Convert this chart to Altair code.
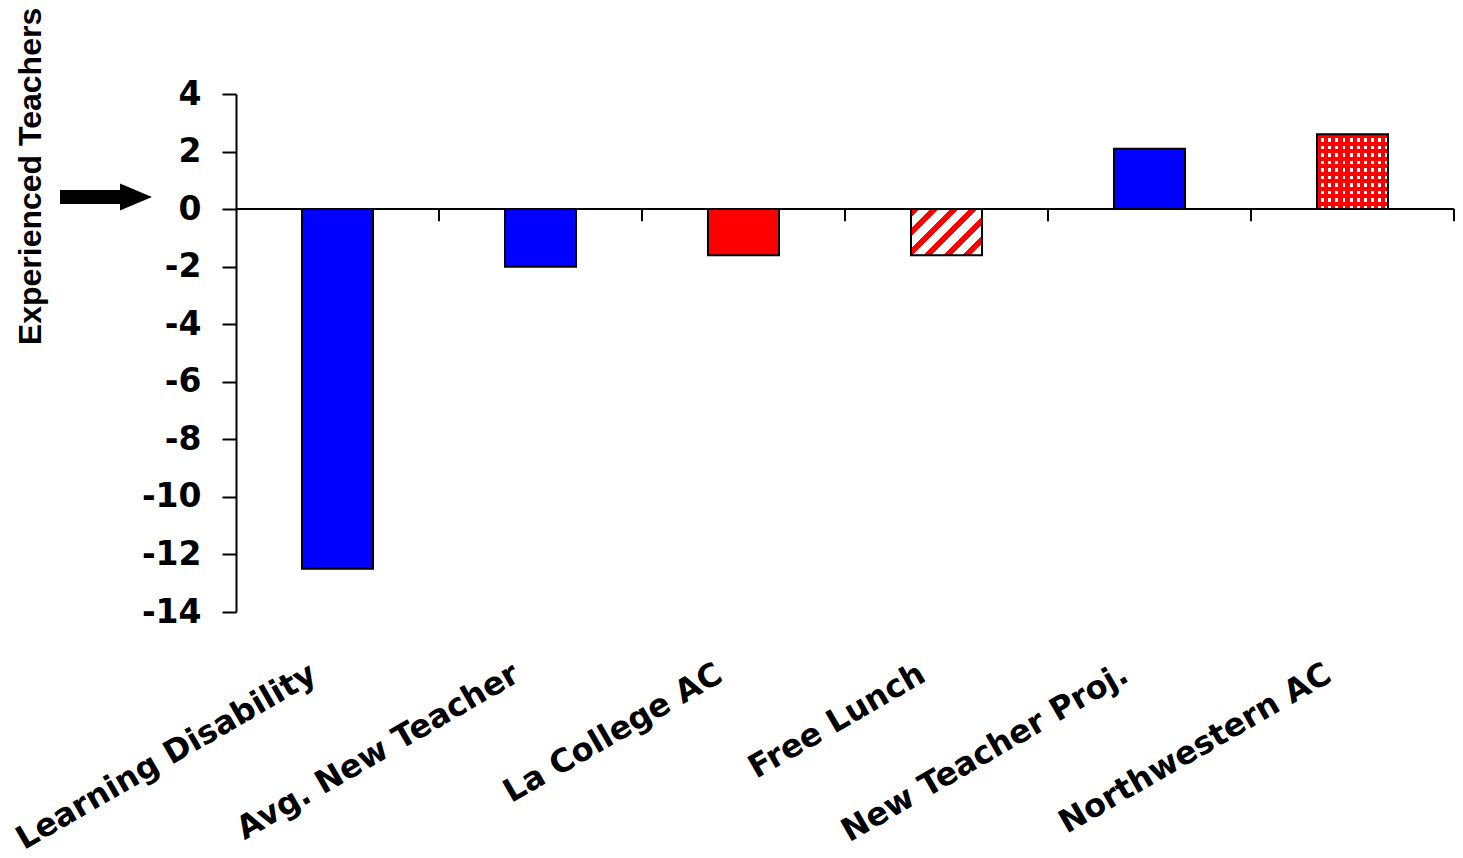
import altair as alt
import pandas as pd

categories = ["Learning Disability", "Avg. New Teacher", "La College AC",
              "Free Lunch", "New Teacher Proj.", "Northwestern AC"]
values = [-12.5, -2.0, -1.6, -1.6, 2.1, 2.6]
fills = ["solid", "solid", "solid", "stripes", "solid", "dots"]
solid_colors = ["#0000FF", "#0000FF", "#FF0000", "#FFFFFF", "#0000FF", "#FF0000"]
y_ticks = [4, 2, 0, -2, -4, -6, -8, -10, -12, -14]
y_title = "Experienced Teachers"

df = pd.DataFrame({"category": categories, "value": values,
                   "fill": fills, "color": solid_colors})

W, H = 1218, 518
LABEL_FONT = "DejaVu Sans"


def stripe_stops(n, c1, c2, frac):
    stops = []
    for i in range(n):
        a = i / n
        b = (i + frac) / n
        c = (i + 1) / n
        stops += [alt.GradientStop(offset=a, color=c1),
                  alt.GradientStop(offset=b, color=c1),
                  alt.GradientStop(offset=b, color=c2),
                  alt.GradientStop(offset=c, color=c2)]
    return stops


diag_stripes = alt.LinearGradient(gradient="linear", x1=0, y1=0, x2=1.16, y2=0.752,
                                  stops=stripe_stops(6, "#FF0000", "#FFFFFF", 0.42))
dot_cols = alt.LinearGradient(gradient="linear", x1=0, y1=0, x2=1, y2=0,
                              stops=stripe_stops(10, "#FF0000", "#FFFFFF", 0.6))
dot_rows = alt.LinearGradient(gradient="linear", x1=0, y1=0, x2=0, y2=1,
                              stops=stripe_stops(10, "rgba(255,0,0,1)", "rgba(255,0,0,0)", 0.55))

x_axis = alt.Axis(title=None, domain=False, ticks=False, grid=False,
                  labelAngle=330, labelAlign="right", labelBaseline="middle",
                  labelPadding=59, labelOffset=-24, labelLimit=0,
                  labelOverlap=False, labelFont=LABEL_FONT,
                  labelFontSize=32, labelFontWeight="bold",
                  labelColor="black")
x_scale = alt.Scale(paddingInner=0, paddingOuter=0)
x_enc = alt.X("category:N", sort=categories, scale=x_scale, axis=x_axis)

y_enc = alt.Y("value:Q",
              scale=alt.Scale(domain=[-14, 4], nice=False, zero=False),
              axis=alt.Axis(values=y_ticks, grid=False, title=y_title,
                            labelExpr="'' + datum.value",
                            domainColor="black", domainWidth=2,
                            tickColor="black", tickWidth=2, tickSize=14,
                            labelFont=LABEL_FONT, labelFontSize=33,
                            labelFontWeight="bold", labelColor="black",
                            labelPadding=21,
                            titleFont="Liberation Sans", titleFontSize=32,
                            titleFontWeight="bold", titleColor="black",
                            titleAngle=270, titleX=-206, titleY=82,
                            titleAlign="center", titleBaseline="middle"))

base = alt.Chart(df).encode(x=x_enc)

bar_w = alt.RelativeBandSize(band=0.35)

solid = base.mark_bar(width=bar_w, stroke="black", strokeWidth=2).encode(
    y=y_enc, y2=alt.datum(0), fill=alt.Color("color:N", scale=None)
).transform_filter(alt.datum.fill == "solid")

striped = base.mark_bar(width=bar_w, stroke="black", strokeWidth=2,
                        fill=diag_stripes).encode(
    y=y_enc, y2=alt.datum(0)
).transform_filter(alt.datum.fill == "stripes")

dots_under = base.mark_bar(width=bar_w, fill=dot_cols, strokeWidth=0).encode(
    y=y_enc, y2=alt.datum(0)
).transform_filter(alt.datum.fill == "dots")

dots_over = base.mark_bar(width=bar_w, fill=dot_rows, stroke="black",
                          strokeWidth=2).encode(
    y=y_enc, y2=alt.datum(0)
).transform_filter(alt.datum.fill == "dots")

zero_line = alt.Chart(df).mark_rule(color="black", strokeWidth=2).encode(
    y=alt.datum(0))

bound_ticks = alt.Chart(df).mark_rule(color="black", strokeWidth=2).encode(
    x=alt.X("category:N", sort=categories, bandPosition=1,
            scale=x_scale, axis=x_axis),
    y=alt.datum(0), y2=alt.datum(-0.42))

arrow_path = ("M-1,-0.152 L0.304,-0.152 L0.304,-0.293 L1,0 L0.304,0.293 "
              "L0.304,0.152 L-1,0.152 Z")
arrow = alt.Chart(pd.DataFrame({"a": [0]})).mark_point(
    shape=arrow_path, size=8464, filled=True, color="black", opacity=1,
    strokeWidth=0).encode(x=alt.value(-130), y=alt.value(103))

chart = alt.layer(zero_line, solid, striped, dots_under, dots_over,
                  bound_ticks, arrow).properties(
    width=W, height=H,
    padding={"left": 236, "top": 94, "right": 9, "bottom": 246},
    autosize=alt.AutoSizeParams(type="none"),
    background="white",
).configure_view(stroke=None)

chart.save("out.html", embed_options={"renderer": "svg", "actions": False})
